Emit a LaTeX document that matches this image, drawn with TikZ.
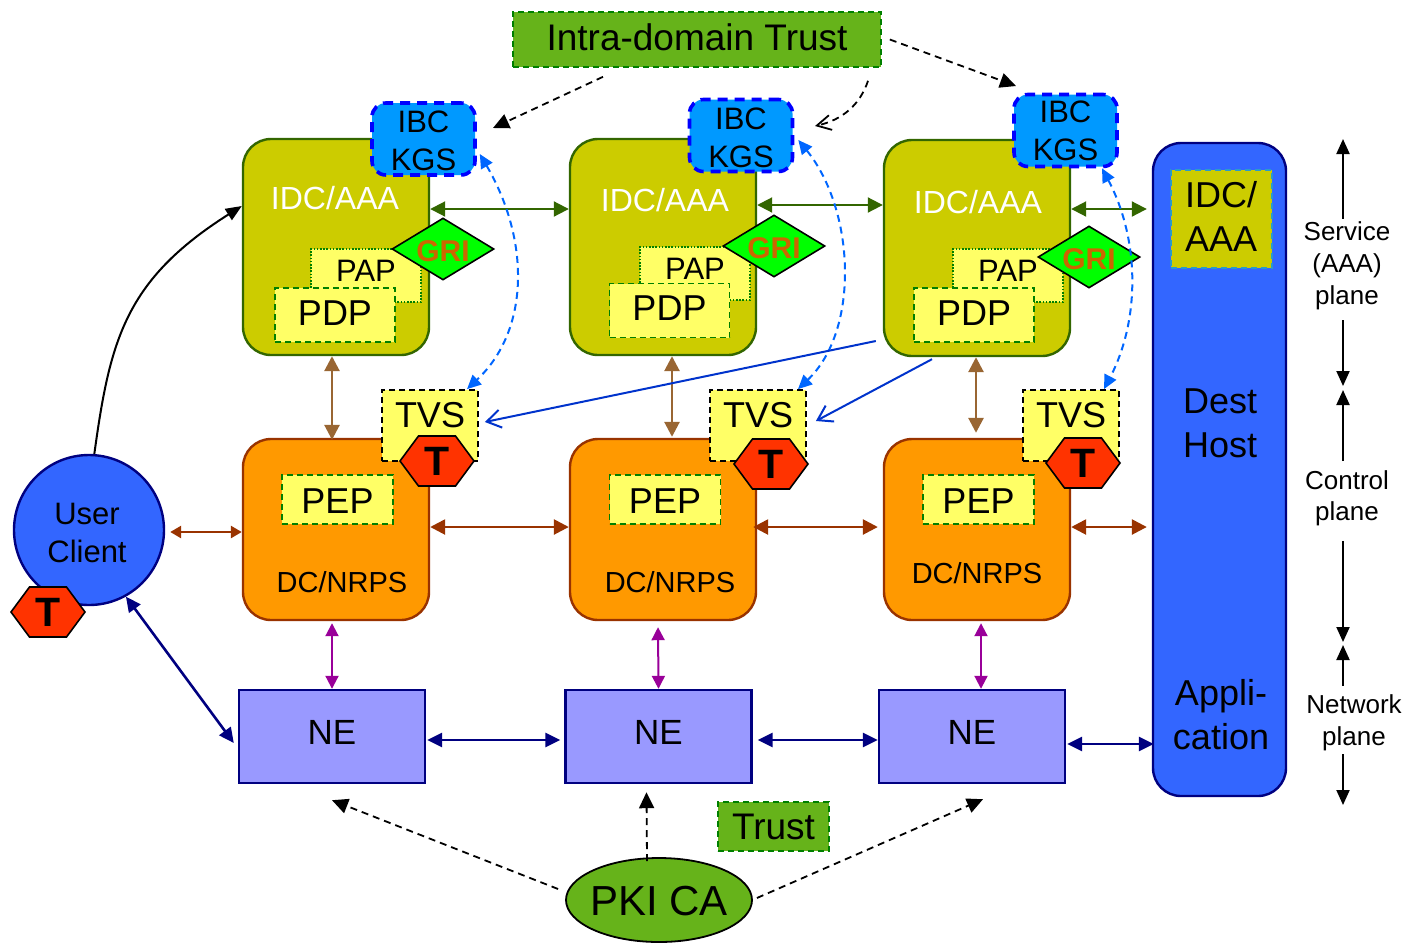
\documentclass[tikz,border=0pt]{standalone}
\usepackage{fontspec}
\setmainfont{Liberation Sans}
\usetikzlibrary{arrows.meta,shapes.geometric,shapes.symbols}
\definecolor{oliveFill}{HTML}{CCCC00}
\definecolor{oliveLine}{HTML}{336600}
\definecolor{paleFill}{HTML}{FFFF66}
\definecolor{kgsFill}{HTML}{0099FF}
\definecolor{griText}{HTML}{CC6600}
\definecolor{dcFill}{HTML}{FF9900}
\definecolor{dcLine}{HTML}{993300}
\definecolor{neFill}{HTML}{9999FF}
\definecolor{navyLine}{HTML}{000080}
\definecolor{hostFill}{HTML}{3366FF}
\definecolor{trustFill}{HTML}{66B31A}
\definecolor{tagFill}{HTML}{FF3300}
\definecolor{linkBlue}{HTML}{0066FF}
\definecolor{certBlue}{HTML}{0033CC}
\definecolor{tanLine}{HTML}{996633}
\definecolor{purpleLine}{HTML}{990099}
\def\boxfont#1#2{\fontsize{#1}{#2}\selectfont}
\tikzset{
	plainbox/.style={rectangle,inner sep=0pt,align=center},
	textlab/.style={inner sep=0pt,align=center,font=\boxfont{#1}{#1}},
	idcbox/.style={plainbox,rounded corners=28pt,draw=oliveLine,fill=oliveFill,line width=2.4pt,minimum width=186pt,minimum height=216pt},
	dcbox/.style={plainbox,rounded corners=28pt,draw=dcLine,fill=dcFill,line width=2.4pt,minimum width=186pt,minimum height=181pt},
	kgsbox/.style={plainbox,rounded corners=14pt,draw=blue,fill=kgsFill,line width=3.6pt,dash pattern=on 10pt off 7pt,minimum width=103pt,minimum height=72pt,font=\boxfont{31}{38}},
	papbox/.style={plainbox,draw=green!50!black,fill=paleFill,line width=1.6pt,dash pattern=on 1.6pt off 1.6pt,minimum width=110pt,minimum height=53pt,text depth=10pt,font=\boxfont{31}{31}},
	pdpbox/.style={plainbox,draw=green!50!black,fill=paleFill,line width=1.6pt,dash pattern=on 6pt off 4pt,minimum width=120pt,minimum height=54pt,text depth=4pt,font=\boxfont{36}{36}},
	pepbox/.style={plainbox,draw=green!50!black,fill=paleFill,line width=1.6pt,dash pattern=on 6pt off 4pt,minimum width=111pt,minimum height=49pt,text height=27pt,font=\boxfont{36}{36}},
	tvsbox/.style={plainbox,draw=black,fill=paleFill,line width=1.8pt,dash pattern=on 6pt off 4pt,minimum width=96pt,minimum height=71pt,text depth=22pt,font=\boxfont{36}{36}},
	gridia/.style={diamond,aspect=1.65,inner sep=0pt,draw=black,fill=green,line width=1.6pt,minimum width=102pt,minimum height=62pt,text height=25pt,text=griText,font=\boxfont{30}{30}\bfseries},
	taghex/.style={signal,signal to=east and west,signal pointer angle=107,inner sep=0pt,draw=black,fill=tagFill,line width=1.6pt,minimum width=74pt,minimum height=50pt,font=\boxfont{41}{41}\bfseries},
	nebox/.style={plainbox,draw=navyLine,fill=neFill,line width=2.4pt,minimum width=186pt,minimum height=93pt,text depth=8pt,font=\boxfont{35}{35}},
	trustbox/.style={plainbox,draw=green!50!black,fill=trustFill,line width=1.6pt,dash pattern=on 6pt off 4pt},
	greenarr/.style={{Triangle[length=15pt,width=15pt]}-{Triangle[length=15pt,width=15pt]},draw=oliveLine,line width=2pt},
	tanarr/.style={{Triangle[length=15pt,width=15pt]}-{Triangle[length=15pt,width=15pt]},draw=tanLine,line width=2.8pt},
	rustarr/.style={{Triangle[length=15pt,width=15pt]}-{Triangle[length=15pt,width=15pt]},draw=dcLine,line width=2.6pt},
	purplearr/.style={{Triangle[length=13pt,width=13pt]}-{Triangle[length=13pt,width=13pt]},draw=purpleLine,line width=2pt},
	navyarr/.style={{Triangle[length=15pt,width=14pt]}-{Triangle[length=15pt,width=14pt]},draw=navyLine,line width=2.6pt},
	linkarr/.style={{Triangle[length=14pt,width=13pt]}-{Triangle[length=14pt,width=13pt]},draw=linkBlue,line width=2pt,dash pattern=on 7pt off 5pt},
	certarr/.style={-{Straight Barb[length=14pt,width=18pt]},draw=certBlue,line width=2pt},
	trustarr/.style={-{Triangle[length=16pt,width=15pt]},draw=black,line width=1.8pt,dash pattern=on 7pt off 5pt},
	sidearr/.style={-{Triangle[length=15pt,width=13pt]},draw=black,line width=2pt}
}

\begin{document}
\begin{tikzpicture}[x=1pt,y=-1pt]
	\useasboundingbox (0,0) rectangle (1404,943);

	\node[trustbox,minimum width=368pt,minimum height=55pt,text depth=4pt,font=\boxfont{37}{37}] (intra) at (697,39.5) {Intra-domain Trust};

	\node[idcbox] (idc1) at (336,247) {};
	\node[idcbox] (idc2) at (663,247) {};
	\node[idcbox] (idc3) at (977,248) {};
	\node[textlab=32,text=white] (idclab1) at (335,198) {IDC/AAA};
	\node[textlab=32,text=white] (idclab2) at (665,200) {IDC/AAA};
	\node[textlab=32,text=white] (idclab3) at (978,202) {IDC/AAA};

	\node[papbox] (pap1) at (366,275.5) {PAP};
	\node[papbox] (pap2) at (695,273.5) {PAP};
	\node[papbox] (pap3) at (1008,275.5) {PAP};
	\node[pdpbox] (pdp1) at (335,315) {PDP};
	\node[pdpbox] (pdp2) at (669.5,310.5) {PDP};
	\node[pdpbox] (pdp3) at (974,315) {PDP};

	\node[kgsbox] (kgs1) at (423.5,139) {\rule{0pt}{26pt}IBC\\KGS};
	\node[kgsbox] (kgs2) at (741,135.5) {\rule{0pt}{26pt}IBC\\KGS};
	\node[kgsbox] (kgs3) at (1065.5,130.5) {IBC\\KGS};
	\node[gridia] (gri1) at (443,249) {GRI};
	\node[gridia] (gri2) at (774,246) {GRI};
	\node[gridia] (gri3) at (1089,257) {GRI};

	\node[dcbox] (dc1) at (336,529.5) {};
	\node[dcbox] (dc2) at (663,529.5) {};
	\node[dcbox] (dc3) at (977,529.5) {};
	\node[textlab=29] (dclab1) at (342,582) {DC/NRPS};
	\node[textlab=29] (dclab2) at (670,582) {DC/NRPS};
	\node[textlab=29] (dclab3) at (977,573) {DC/NRPS};
	\node[pepbox] (pep1) at (337.5,499.5) {PEP};
	\node[pepbox] (pep2) at (665,499.5) {PEP};
	\node[pepbox] (pep3) at (978.5,499.5) {PEP};

	\node[tvsbox] (tvs1) at (430,425.5) {TVS};
	\node[tvsbox] (tvs2) at (758,425.5) {TVS};
	\node[tvsbox] (tvs3) at (1071,425.5) {TVS};
	\node[taghex] (tag1) at (437,461) {T};
	\node[taghex] (tag2) at (771,464) {T};
	\node[taghex] (tag3) at (1083,463) {T};

	\node[nebox] (ne1) at (332,736.5) {NE};
	\node[nebox] (ne2) at (658.5,736.5) {NE};
	\node[nebox] (ne3) at (972,736.5) {NE};

	\node[circle,inner sep=0pt,draw=navyLine,fill=hostFill,line width=2.4pt,minimum size=150pt] (user) at (89,530) {};
	\node[textlab=31,font=\boxfont{31}{38}] (userlab) at (87,533) {User\\Client};
	\node[taghex] (tag0) at (48,612) {T};

	\node[plainbox,rounded corners=28pt,draw=navyLine,fill=hostFill,line width=2.4pt,minimum width=133pt,minimum height=653pt] (dest) at (1219.5,469.5) {};
	\node[plainbox,draw=cyan!80!black,fill=oliveFill,line width=1.8pt,dash pattern=on 6pt off 4pt,minimum width=101pt,minimum height=98pt] (idchost) at (1221.5,219) {};
	\node[textlab=36,font=\boxfont{36}{44}] (idchostlab) at (1221,216) {IDC/\\AAA};
	\node[textlab=36,font=\boxfont{36}{44}] (hostlab) at (1220,423) {Dest\\Host};
	\node[textlab=36,font=\boxfont{36}{44}] (applab) at (1221,715) {Appli-\\cation};

	\node[trustbox,minimum width=111pt,minimum height=49pt,font=\boxfont{37}{37}] (trust) at (773.5,826.5) {Trust};
	\node[ellipse,inner sep=0pt,draw=black,fill=trustFill,line width=1.8pt,minimum width=186pt,minimum height=84pt] (pki) at (659,900) {};
	\node[textlab=42] (pkilab) at (659,901) {PKI CA};

	\node[textlab=26,font=\boxfont{26}{32}] (svc) at (1347,266) {Service\\(AAA)\\plane};
	\node[textlab=26,font=\boxfont{26}{31}] (ctl) at (1347,498) {Control\\plane};
	\node[textlab=26,font=\boxfont{26}{32}] (net) at (1354,723) {Network\\plane};

	\coordinate (svctop) at (1343,139);
	\coordinate (svcbot) at (1343,386);
	\coordinate (ctltop) at (1343,390);
	\coordinate (ctlbot) at (1343,642);
	\coordinate (nettop) at (1343,645);
	\coordinate (netbot) at (1343,805);
	\coordinate (ibctip1) at (493,128);
	\coordinate (ibctip2) at (815,126);
	\coordinate (ibctip3) at (1016,86);

	\draw[sidearr] ([xshift=-4,yshift=3]svc.north) -- (svctop);
	\draw[sidearr] ([xshift=-4,yshift=-10]svc.south) -- (svcbot);
	\draw[sidearr] ([xshift=-4,yshift=9]ctl.north) -- (ctltop);
	\draw[sidearr] ([xshift=-4,yshift=-15]ctl.south) -- (ctlbot);
	\draw[sidearr] ([xshift=-11,yshift=9]net.north) -- (nettop);
	\draw[sidearr] ([xshift=-11,yshift=-3]net.south) -- (netbot);

	\draw[greenarr] ([yshift=38]idc1.east) -- ([yshift=38]idc2.west);
	\draw[greenarr] ([yshift=42]idc2.east) -- ([yshift=43]idc3.west);
	\draw[greenarr] ([yshift=39]idc3.east) -- ([xshift=-5,yshift=260.5]dest.west);

	\draw[tanarr] ([xshift=-4]idc1.south) -- ([xshift=-4,yshift=-2]dc1.north);
	\draw[tanarr] ([xshift=9]idc2.south) -- ([xshift=9,yshift=1]dc2.north);
	\draw[tanarr] ([xshift=-1]idc3.south) -- ([xshift=-1,yshift=5]dc3.north);

	\draw[rustarr,{Triangle[length=11pt,width=12pt]}-{Triangle[length=11pt,width=12pt]}] ([xshift=5,yshift=-2]user.east) -- ([yshift=-2.5]dc1.west);
	\draw[rustarr] ([yshift=2.5]dc1.east) -- ([yshift=2.5]dc2.west);
	\draw[rustarr] ([xshift=-4,yshift=2.5]dc2.east) -- ([xshift=-5,yshift=2.5]dc3.west);
	\draw[rustarr] ([yshift=2.5]dc3.east) -- ([xshift=-5,yshift=-57.5]dest.west);

	\draw[purplearr] ([xshift=-4,yshift=-2]dc1.south) -- (ne1.north);
	\draw[purplearr] ([xshift=-5,yshift=-6]dc2.south) -- (ne2.north);
	\draw[purplearr] ([xshift=4,yshift=-2]dc3.south) -- ([xshift=9]ne3.north);

	\draw[navyarr] ([xshift=1,yshift=-3.5]ne1.east) -- ([xshift=-4,yshift=-3.5]ne2.west);
	\draw[navyarr] ([xshift=5,yshift=-3.5]ne2.east) -- ([yshift=-3.5]ne3.west);
	\draw[navyarr] ([xshift=1,yshift=-7.5]ne3.east) -- ([xshift=2,yshift=-274.5]dest.west);
	\draw[navyarr] (user.-61) -- ([xshift=-4,yshift=-6.5]ne1.west);

	\draw[-{Triangle[length=16pt,width=13pt]},draw=black,line width=2pt] (user.86) .. controls (110,340) and (125,280) .. ([yshift=41]idc1.west);

	\draw[linkarr] ([xshift=3,yshift=-15]kgs1.east) .. controls (530,240) and (530,330) .. ([xshift=37]tvs1.north);
	\draw[linkarr] ([xshift=4,yshift=-4.5]kgs2.east) .. controls (855,210) and (860,330) .. ([xshift=40]tvs2.north);
	\draw[linkarr] ([xshift=36.5]kgs3.south) .. controls (1140,240) and (1140,320) .. ([xshift=33]tvs3.north);

	\draw[certarr] ([xshift=-7,yshift=-93]idc3.west) -- ([xshift=6,yshift=3.5]tvs1.east);
	\draw[certarr] ([xshift=-45,yshift=-2]idc3.south) -- ([xshift=9,yshift=4.5]tvs2.east);

	\draw[trustarr] ([xshift=-94,yshift=-9]intra.south) -- (ibctip1);
	\draw[trustarr,-{Straight Barb[length=14pt,width=15pt]}] ([xshift=171,yshift=-13]intra.south) .. controls (860,105) and (842,120) .. (ibctip2);
	\draw[trustarr] ([xshift=8]intra.east) -- (ibctip3);

	\draw[trustarr] ([xshift=-7,yshift=11]pki.west) -- ([yshift=-16]ne1.south);
	\draw[trustarr] ([xshift=-12,yshift=-4]pki.north) -- ([xshift=-12,yshift=-8]ne2.south);
	\draw[trustarr] ([xshift=4,yshift=2]pki.east) -- ([xshift=11,yshift=-15]ne3.south);
\end{tikzpicture}
\end{document}
